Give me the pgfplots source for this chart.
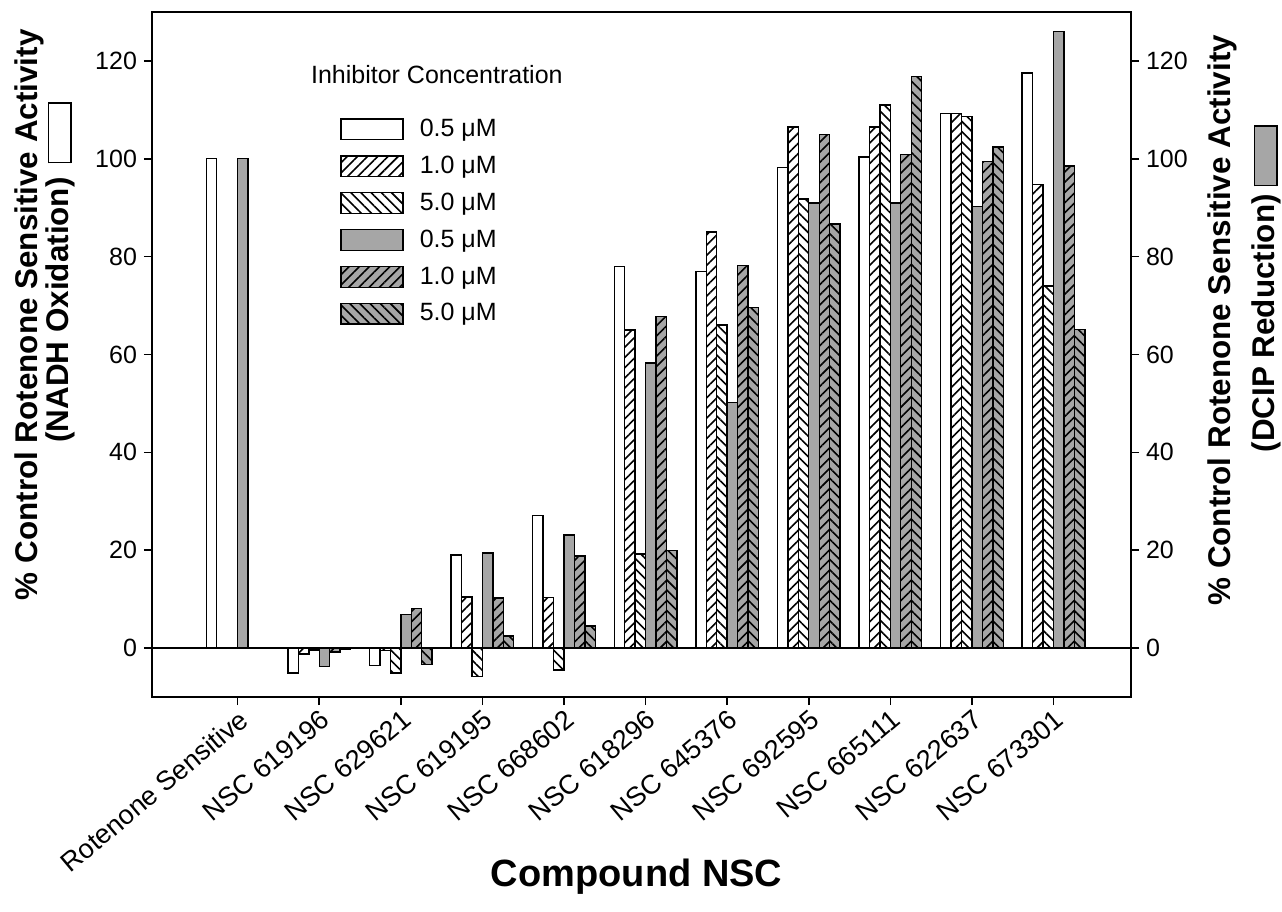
\documentclass[border=0pt]{standalone}
\usepackage{fontspec}
\setmainfont{Liberation Sans}
\usepackage{pgfplots}
\pgfplotsset{compat=1.18}
\usetikzlibrary{patterns.meta}
\definecolor{barg}{RGB}{166,166,166}
\setlength\fboxsep{0pt}
\setlength\fboxrule{0.8pt}
\tikzset{
  hne/.style={postaction={pattern={Lines[angle=45,distance=3.6pt,line width=0.8pt]}}},
  hnw/.style={postaction={pattern={Lines[angle=-45,distance=3.6pt,line width=0.8pt]}}},
}
\pgfplotsset{
  legbox/.style={legend image code/.code={\draw[##1] (0pt,-5.2pt) rectangle (31pt,5.2pt); \path (37pt,0pt);}},
  mybar/.style={ybar, bar width=0.128, bar shift=#1*0.128, draw=black, line width=0.7pt, legbox},
}
\newcommand{\legsq}[1]{\raisebox{-1pt}{\fcolorbox{black}{#1}{\rule{0pt}{10.5pt}\hspace{29pt}}}}
\begin{document}
\begin{tikzpicture}
\begin{axis}[
  name=main,
  scale only axis, width=489.5pt, height=342.5pt,
  xmin=-1.05, xmax=10.95, ymin=-10, ymax=130,
  clip=false,
  xtick={0,...,10},
  xticklabels={Rotenone Sensitive, NSC 619196, NSC 629621, NSC 619195, NSC 668602, NSC 618296, NSC 645376, NSC 692595, NSC 665111, NSC 622637, NSC 673301},
  xtick pos=bottom, ytick pos=left,
  ytick={0,20,...,120},
  tick align=outside, major tick length=4pt,
  axis line style={line width=0.8pt}, tick style={line width=0.8pt, black},
  yticklabel style={font=\fontsize{12.5}{14}\selectfont},
  /pgf/number format/assume math mode=true,
  xticklabel style={rotate=40, anchor=north east, inner sep=1pt, font=\fontsize{13.5}{16}\selectfont},
  legend cell align=left,
  legend style={at={(rel axis cs:0.192,0.85)}, anchor=north west, draw=none, fill=none,
    inner sep=0pt, row sep=4.2pt, font=\fontsize{12.5}{14}\selectfont},
]
\addplot[mybar=-2.5, fill=white] coordinates {(0,100) (1,-5.1) (2,-3.5) (3,19) (4,27.1) (5,78) (6,77) (7,98.2) (8,100.4) (9,109.3) (10,117.5)};
\addlegendentry{0.5 μM}
\addplot[mybar=-1.5, fill=white, hne] coordinates {(1,-1.2) (2,-0.5) (3,10.4) (4,10.3) (5,65) (6,85) (7,106.5) (8,106.5) (9,109.3) (10,94.8)};
\addlegendentry{1.0 μM}
\addplot[mybar=-0.5, fill=white, hnw] coordinates {(1,-0.4) (2,-5.1) (3,-5.8) (4,-4.5) (5,19.2) (6,66) (7,91.8) (8,111) (9,108.6) (10,74)};
\addlegendentry{5.0 μM}
\addplot[mybar=0.5, fill=barg] coordinates {(0,100) (1,-3.8) (2,6.9) (3,19.4) (4,23.1) (5,58.3) (6,50.2) (7,91) (8,91) (9,90.3) (10,126)};
\addlegendentry{0.5 μM}
\addplot[mybar=1.5, fill=barg, hne] coordinates {(1,-0.8) (2,8.1) (3,10.2) (4,18.8) (5,67.8) (6,78.2) (7,105) (8,100.9) (9,99.4) (10,98.5)};
\addlegendentry{1.0 μM}
\addplot[mybar=2.5, fill=barg, hnw] coordinates {(1,-0.3) (2,-3.3) (3,2.5) (4,4.5) (5,20) (6,69.6) (7,86.7) (8,116.8) (9,102.4) (10,65.1)};
\addlegendentry{5.0 μM}
\draw[line width=0.8pt] (axis cs:-1.05,0) -- (axis cs:10.95,0);
\node[font=\fontsize{12.5}{14}\selectfont] at (rel axis cs:0.291,0.908) {Inhibitor Concentration};
\node[font=\bfseries\fontsize{19}{23}\selectfont] at ([yshift=-90pt]rel axis cs:0.495,0) {Compound NSC};
\node[rotate=90, inner sep=0pt, font=\bfseries\fontsize{15.7}{18}\selectfont] at ([xshift=-61.5pt]rel axis cs:0,0.558) {\% Control Rotenone Sensitive Activity};
\node[rotate=90, inner sep=0pt, font=\bfseries\fontsize{15.7}{18}\selectfont] at ([xshift=-46pt]rel axis cs:0,0.62) {(NADH Oxidation)\hspace{7pt}\legsq{white}};
\node[rotate=90, inner sep=0pt, font=\bfseries\fontsize{15.7}{18}\selectfont] at ([xshift=45.5pt]rel axis cs:1,0.55) {\% Control Rotenone Sensitive Activity};
\node[rotate=90, inner sep=0pt, font=\bfseries\fontsize{15.7}{18}\selectfont] at ([xshift=67.5pt]rel axis cs:1,0.596) {(DCIP Reduction)\hspace{4pt}\legsq{barg}};
\end{axis}
\begin{axis}[
  scale only axis, width=489.5pt, height=342.5pt,
  xmin=-1.05, xmax=10.95, ymin=-10, ymax=130,
  axis x line=none, axis y line*=right,
  ytick={0,20,...,120},
  tick align=outside, major tick length=4pt,
  axis line style={line width=0.8pt}, tick style={line width=0.8pt, black},
  every tick label/.append style={font=\fontsize{12.5}{14}\selectfont},
  /pgf/number format/assume math mode=true,
]
\addplot[draw=none] coordinates {(0,0)};
\end{axis}
\pgfresetboundingbox
\useasboundingbox ([xshift=-76pt,yshift=-107pt]main.south west) rectangle ([xshift=75.5pt,yshift=6pt]main.north east);
\end{tikzpicture}
\end{document}
